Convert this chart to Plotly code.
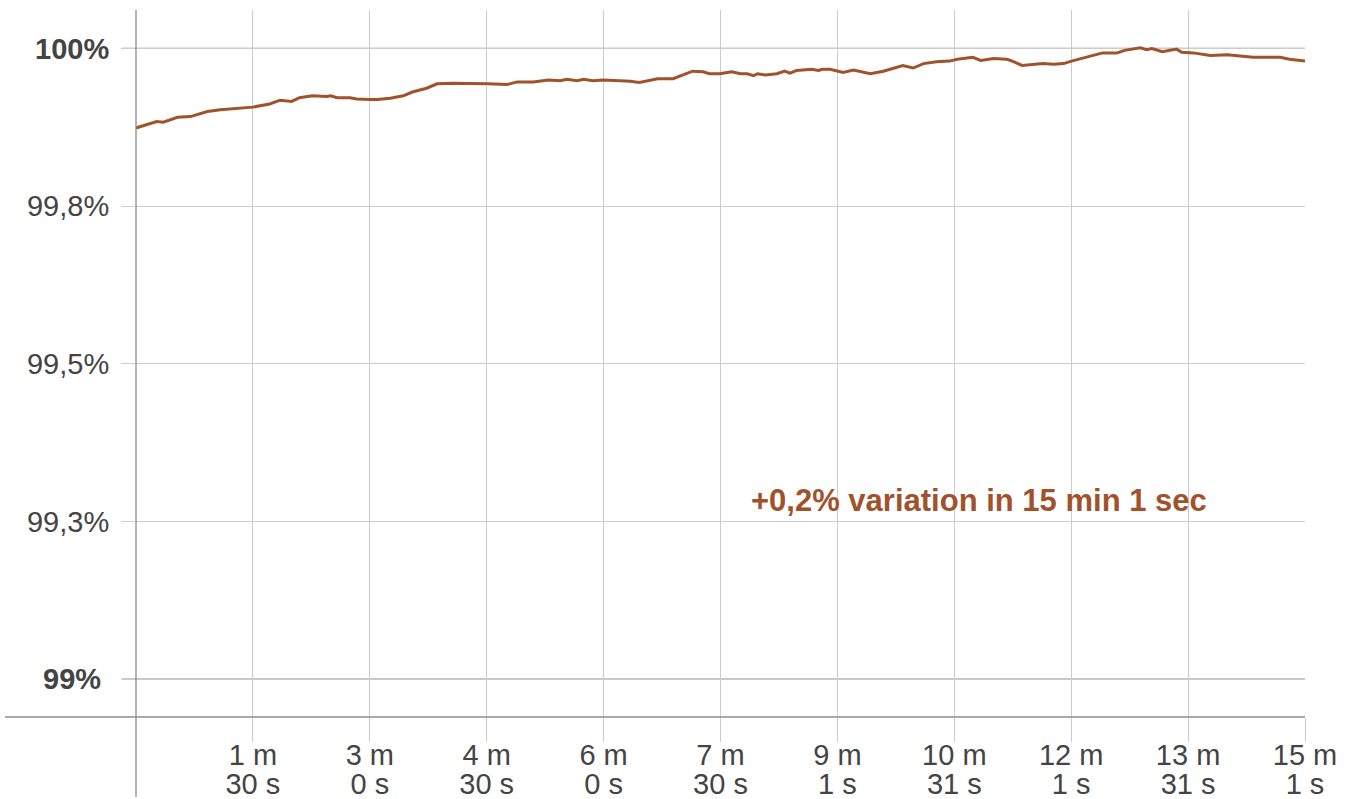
import plotly.graph_objects as go

# elapsed time (seconds) and relative level (%)
t_sec = [0, 16, 21, 32, 42, 47, 55, 65, 72, 90, 103, 111, 120, 126, 136, 147, 150, 155, 165, 170,
         180, 186, 196, 206, 213, 224, 232, 244, 271, 286, 294, 306, 318, 327, 332, 340, 345, 352,
         360, 371, 381, 388, 402, 414, 422, 429, 437, 442, 450, 459, 466, 471, 476, 479, 485, 494,
         500, 504, 509, 517, 521, 526, 529, 535, 545, 553, 566, 576, 581, 591, 599, 607, 617, 627,
         633, 645, 651, 661, 671, 674, 683, 691, 699, 707, 715, 721, 733, 745, 756, 762, 774, 779,
         783, 791, 802, 806, 815, 820, 828, 841, 851, 861, 872, 882, 889, 901]
level = [99.874, 99.884, 99.883, 99.891, 99.892, 99.895, 99.900, 99.903, 99.904, 99.907, 99.912,
         99.918, 99.916, 99.922, 99.925, 99.924, 99.925, 99.922, 99.922, 99.920, 99.919, 99.919,
         99.921, 99.925, 99.931, 99.937, 99.944, 99.945, 99.944, 99.943, 99.947, 99.947, 99.950,
         99.949, 99.951, 99.949, 99.951, 99.949, 99.950, 99.949, 99.948, 99.946, 99.952, 99.952,
         99.958, 99.964, 99.963, 99.960, 99.960, 99.963, 99.960, 99.960, 99.957, 99.960, 99.958,
         99.960, 99.964, 99.961, 99.965, 99.966, 99.967, 99.965, 99.967, 99.967, 99.962, 99.966,
         99.960, 99.964, 99.967, 99.973, 99.969, 99.976, 99.979, 99.980, 99.983, 99.986, 99.981,
         99.984, 99.983, 99.981, 99.973, 99.974, 99.976, 99.975, 99.976, 99.980, 99.986, 99.993,
         99.993, 99.997, 100.001, 99.998, 100.000, 99.995, 99.999, 99.994, 99.993, 99.991, 99.989,
         99.990, 99.988, 99.986, 99.986, 99.986, 99.983, 99.980]

x_tickvals = [90.1, 180.2, 270.3, 360.4, 450.5, 540.6, 630.7, 720.8, 810.9, 901]
x_line1 = ["1 m", "3 m", "4 m", "6 m", "7 m", "9 m", "10 m", "12 m", "13 m", "15 m"]
x_line2 = ["30 s", "0 s", "30 s", "0 s", "30 s", "1 s", "31 s", "1 s", "31 s", "1 s"]

y_tickvals = [99.0, 99.25, 99.5, 99.75, 100.0]
y_ticktext = ["<b>99%&nbsp;</b>", "99,3%", "99,5%", "99,8%", "<b>100%</b>"]
major_levels = [99.0, 100.0]

annotation_text = "+0,2% variation in 15 min 1 sec"

LINE_COLOR = "#A0522D"
TEXT_COLOR = "#444444"
GRID_LIGHT = "#cccccc"
GRID_DARK = "#8c8c8c"
FONT = "Liberation Sans, Arial, sans-serif"

X_RANGE = [0, 901]
Y_RANGE = [98.94, 100.061]

fig = go.Figure()
fig.add_trace(go.Scatter(x=t_sec, y=level, mode="lines",
                         line=dict(color=LINE_COLOR, width=3), showlegend=False,
                         hoverinfo="skip"))
# invisible trace to activate the second x axis (second line of tick labels)
fig.add_trace(go.Scatter(x=[t_sec[0]], y=[level[0]], xaxis="x2", mode="markers",
                         marker=dict(opacity=0), showlegend=False, hoverinfo="skip"))

for lv in major_levels:
    fig.add_shape(type="line", xref="paper", yref="y", x0=-14 / 1169, x1=1, y0=lv, y1=lv,
                  line=dict(color=GRID_DARK, width=1.3), layer="below")

# axis lines that cross and extend past each other
fig.add_shape(type="line", xref="paper", yref="paper", x0=-0.112, x1=1, y0=0, y1=0,
              line=dict(color=GRID_DARK, width=1.3))
fig.add_shape(type="line", xref="paper", yref="paper", x0=0, x1=0, y0=-0.113, y1=1,
              line=dict(color=GRID_DARK, width=1.3))

fig.add_annotation(x=650, y=99.283, xref="x", yref="y", text="<b>" + annotation_text + "</b>",
                   showarrow=False, font=dict(family=FONT, size=31, color=LINE_COLOR))

fig.update_layout(
    width=1353, height=799,
    margin=dict(l=136, r=48, t=10, b=82, autoexpand=False),
    paper_bgcolor="white", plot_bgcolor="white",
    font=dict(family=FONT, size=28, color=TEXT_COLOR),
    xaxis=dict(range=X_RANGE, tickmode="array", tickvals=x_tickvals, ticktext=x_line1,
               showgrid=True, gridcolor=GRID_LIGHT, gridwidth=1.3,
               ticks="outside", ticklen=24, tickcolor=GRID_LIGHT, tickwidth=1.3,
               showline=False, zeroline=False, ticklabelstandoff=-12, automargin=False,
               tickfont=dict(family=FONT, size=29, color=TEXT_COLOR)),
    xaxis2=dict(range=X_RANGE, overlaying="x", anchor="y", side="bottom",
                tickmode="array", tickvals=x_tickvals, ticktext=x_line2,
                showgrid=False, ticks="outside", ticklen=24, tickcolor="rgba(0,0,0,0)",
                showline=False, zeroline=False, automargin=False,
                ticklabelstandoff=17,
                tickfont=dict(family=FONT, size=29, color=TEXT_COLOR)),
    yaxis=dict(range=Y_RANGE, tickmode="array", tickvals=y_tickvals, ticktext=y_ticktext,
               showgrid=True, gridcolor=GRID_LIGHT, gridwidth=1.3,
               ticks="outside", ticklen=14, tickcolor=GRID_LIGHT, tickwidth=1.3,
               showline=False, zeroline=False, ticklabelstandoff=6, automargin=False,
               tickfont=dict(family=FONT, size=29, color=TEXT_COLOR)),
)

fig.write_html("out.html", config={"displayModeBar": False},
               post_script="document.body.style.margin='0';document.body.style.overflow='hidden';")
